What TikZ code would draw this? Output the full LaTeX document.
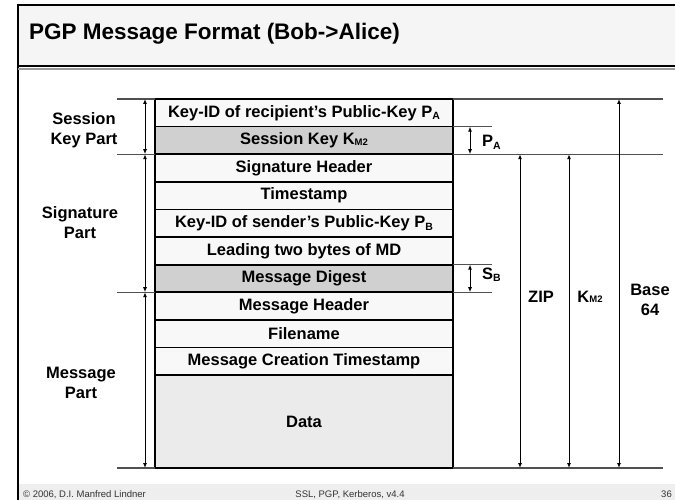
\documentclass[tikz,border=0pt]{standalone}
\usepackage{fontspec}
\setmainfont{Liberation Sans}
\usetikzlibrary{arrows.meta}
\definecolor{titlebg}{HTML}{F5F5F5}
\definecolor{footbg}{HTML}{EEEEEE}
\definecolor{cellwhite}{HTML}{F8F8F8}
\definecolor{cellgray}{HTML}{D0D0D0}
\definecolor{datagray}{HTML}{EBEBEB}
\definecolor{linegray}{HTML}{505050}
\definecolor{rulegray}{HTML}{9A9A9A}
\definecolor{foottext}{HTML}{333333}
\newcommand{\sbA}[1]{\raisebox{-0.17em}{\fontsize{10.5}{10.5}\selectfont #1}}
\newcommand{\sbK}[1]{\raisebox{-0.05em}{\fontsize{9.5}{9.5}\selectfont #1}}
\tikzset{
  cell/.style={draw=black, line width=1.8pt, minimum width=298pt, minimum height=27.6pt,
    inner sep=0pt, outer sep=0pt, anchor=north west,
    font=\fontsize{16.5}{19}\selectfont\bfseries},
  lbl/.style={align=center, font=\fontsize{16.5}{20}\selectfont\bfseries, inner sep=0pt},
  sideline/.style={draw=linegray, line width=1.3pt},
  dim/.style={draw=black, line width=1pt, {Latex[length=5pt,width=4pt]}-{Latex[length=5pt,width=4pt]}},
  foot/.style={font=\fontsize{9.5}{11}\selectfont, text=foottext, inner sep=0pt}
}
\begin{document}
\begin{tikzpicture}[x=1pt,y=-1pt]
\useasboundingbox (0,0) rectangle (675,500);
% frame
\fill[titlebg] (18,5) rectangle (675,66);
\fill[footbg] (18,484) rectangle (675,500);
\draw[black, line width=1.5pt] (675,5) -- (18,5) -- (18,500);
\draw[black, line width=1.5pt] (18,66) -- (675,66);
\draw[rulegray, line width=2pt] (18,68.8) -- (675,68.8);
\node[anchor=base west, inner sep=0pt, font=\fontsize{22.5}{26}\selectfont\bfseries] (title) at (29,40) {PGP Message Format (Bob->Alice)};
% footer
\node[foot, anchor=base west] (f1) at (23,497) {© 2006, D.I. Manfred Lindner};
\node[foot, anchor=base] (f2) at (350,497) {SSL, PGP, Kerberos, v4.4};
\node[foot, anchor=base east] (f3) at (672,497) {36};
% table rows
\node[cell, fill=cellwhite] (r1) at (155,99) {Key-ID of recipient's Public-Key P\sbA{A}};
\node[cell, fill=cellgray] (r2) at (155,126.6) {Session Key K\sbK{M2}};
\node[cell, fill=cellwhite] (r3) at (155,154.2) {Signature Header};
\node[cell, fill=cellwhite] (r4) at (155,181.8) {Timestamp};
\node[cell, fill=cellwhite] (r5) at (155,209.4) {Key-ID of sender's Public-Key P\sbA{B}};
\node[cell, fill=cellwhite] (r6) at (155,237) {Leading two bytes of MD};
\node[cell, fill=cellgray] (r7) at (155,264.6) {Message Digest};
\node[cell, fill=cellwhite] (r8) at (155,292.2) {Message Header};
\node[cell, fill=cellwhite] (r9) at (155,319.8) {Filename};
\node[cell, fill=cellwhite] (r10) at (155,347.4) {Message Creation Timestamp};
\node[cell, fill=datagray, minimum height=93pt] (r11) at (155,375) {Data};
% coordinates for side lines
\coordinate (lA) at (117,99);
\coordinate (lB) at (117,154.2);
\coordinate (lC) at (117,292.2);
\coordinate (lD) at (117,468);
\coordinate (rA) at (663,99);
\coordinate (rB) at (663,154.2);
\coordinate (rD) at (663,468);
\coordinate (sA) at (492,126.6);
\coordinate (sB) at (492,264.6);
\coordinate (sC) at (492,292.2);
% left lines
\draw[sideline] (lA) -- (r1.north west);
\draw[sideline] (lB) -- (r3.north west);
\draw[sideline] (lC) -- (r8.north west);
\draw[sideline] (lD) -- (r11.south west);
% right lines
\draw[sideline] (r1.north east) -- (rA);
\draw[sideline] (r3.north east) -- (rB);
\draw[sideline] (r11.south east) -- (rD);
\draw[sideline] (r2.north east) -- (sA);
\draw[sideline] (r7.north east) -- (sB);
\draw[sideline] (r8.north east) -- (sC);
% left dimension arrows
\coordinate (a1) at (145,99);
\coordinate (a2) at (145,154.2);
\coordinate (a3) at (145,292.2);
\coordinate (a4) at (145,468);
\draw[dim] (a1) -- (a2);
\draw[dim] (a2) -- (a3);
\draw[dim] (a3) -- (a4);
\node[lbl] (sk) at (84,130) {Session\\Key Part};
\node[lbl] (sp) at (80,222.5) {Signature\\Part};
\node[lbl] (mp) at (81,383) {Message\\Part};
% right dimension arrows
\coordinate (p1) at (470,126.6);
\coordinate (p2) at (470,154.2);
\coordinate (s1) at (470,264.6);
\coordinate (s2) at (470,292.2);
\coordinate (z1) at (520,154.2);
\coordinate (z2) at (520,468);
\coordinate (k1) at (569,154.2);
\coordinate (k2) at (569,468);
\coordinate (b1) at (619,99);
\coordinate (b2) at (619,468);
\draw[dim] (p1) -- (p2);
\draw[dim] (s1) -- (s2);
\draw[dim] (z1) -- (z2);
\draw[dim] (k1) -- (k2);
\draw[dim] (b1) -- (b2);
\node[lbl, anchor=base west] (pa) at (482,146.5) {P\sbA{A}};
\node[lbl, anchor=base west] (sb) at (482,279) {S\sbA{B}};
\node[lbl, anchor=base] (zip) at (541,302) {ZIP};
\node[lbl, anchor=base] (km) at (590,302) {K\sbK{M2}};
\node[lbl] (b64) at (650,300) {Base\\64};
\end{tikzpicture}
\end{document}
